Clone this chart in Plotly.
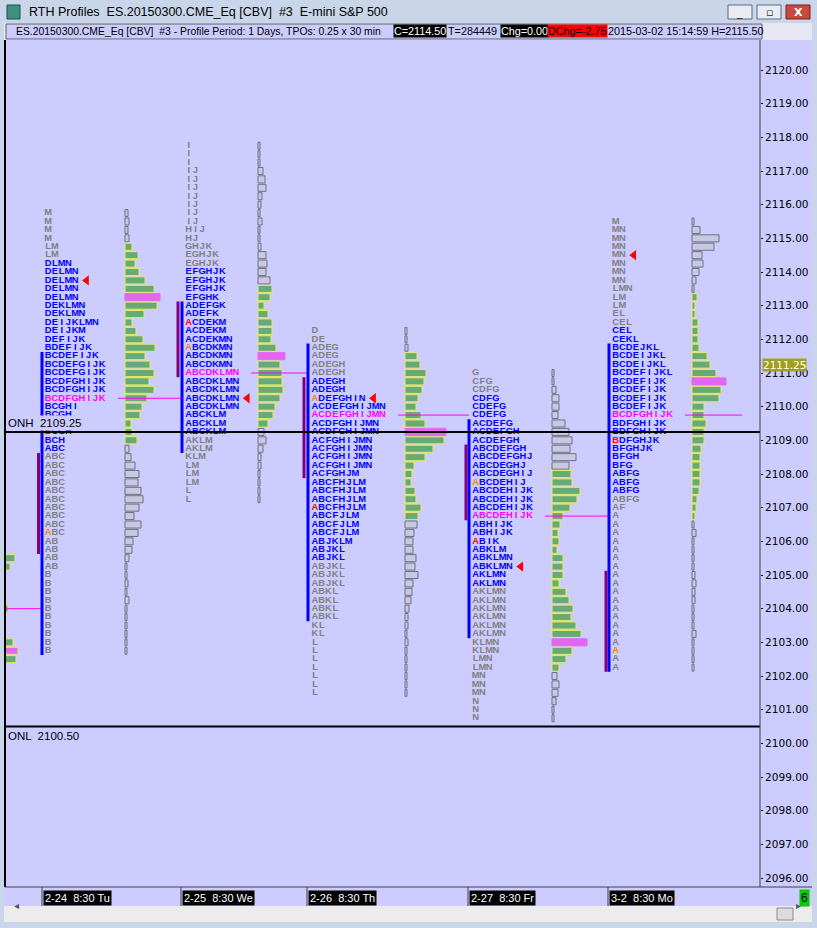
import plotly.graph_objects as go

# ======================= DATA =======================
TICK = 0.25
day_labels = ["2-24  8:30 Tu", "2-25  8:30 We", "2-26  8:30 Th", "2-27  8:30 Fr", "3-2  8:30 Mo"]

# --- Day 1 (2-24) ---
d1_top = 2115.75
d1_tpo = ["M", "M", "M", "M", "LM", "LM", "DLMN", "DELMN", "DELMN", "DELMN", "DELMN",
          "DEKLMN", "DEKLMN", "DEIJKLMN", "DEIJKM", "DEFIJK", "BDEFIJK", "BCDEFIJK",
          "BCDEFGIJK", "BCDEFGIJK", "BCDFGHIJK", "BCDFGHIJK", "BCDFGHIJK", "BCGHI",
          "BCGH", "BCGH", "BCGH", "BCH", "ABC", "ABC", "ABC", "ABC", "ABC", "ABC", "ABC",
          "ABC", "ABC", "ABC", "ABC", "AB", "AB", "AB", "AB", "B", "B", "B", "B", "B",
          "B", "B", "B", "B", "B"]
d1_vol = [3, 4, 3, 4, 7, 13, 10, 14, 20, 29, 35, 32, 19, 7, 11, 18, 30, 20, 25, 29, 24,
          29, 22, 17, 15, 6, 7, 12, 4, 6, 10, 14, 13, 16, 18, 14, 9, 16, 13, 8, 7, 4, 2,
          2, 3, 2, 4, 2, 2, 2, 2, 2, 2]

# --- Day 2 (2-25) ---
d2_top = 2117.75
d2_tpo = ["I", "I", "I", "IJ", "IJ", "IJ", "IJ", "IJ", "IJ", "IJ", "HIJ", "HJ", "GHJK",
          "EGHJK", "EGHJK", "EFGHJK", "EFGHJK", "EFGHJK", "EFGHK", "ADEFGK", "ADEFK",
          "ACDEKM", "ACDEKM", "ACDEKMN", "ABCDKMN", "ABCDKMN", "ABCDKMN", "ABCDKLMN",
          "ABCDKLMN", "ABCDKLMN", "ABCDKLMN", "ABCDKLMN", "ABCKLM", "ABCKLM", "ABCKLM",
          "AKLM", "AKLM", "KLM", "LM", "LM", "LM", "L", "L"]
d2_vol = [2, 2, 2, 5, 7, 8, 4, 3, 2, 4, 2, 2, 3, 8, 9, 8, 12, 14, 12, 6, 10, 14, 14,
          13, 18, 27, 22, 24, 24, 25, 22, 17, 15, 10, 6, 8, 5, 3, 3, 2, 2, 2, 2]

# --- Day 3 (2-26) ---
d3_top = 2112.25
d3_tpo = ["D", "DE", "ADEG", "ADEG", "ADEGH", "ADEGH", "ADEGH", "ADEGH", "ADEFGHIN",
          "ACDEFGHIJMN", "ACDEFGHIJMN", "ACDFGHIJMN", "ACDFGHIJMN", "ACFGHIJMN",
          "ACFGHIJMN", "ACFGHIJMN", "ACFGHIJMN", "ACFGHJM", "ABCFHJLM", "ABCFHJLM",
          "ABCFHJLM", "ABCFHJLM", "ABCFJLM", "ABCFJLM", "ABCFJLM", "ABJKLM", "ABJKL",
          "ABJKL", "ABJKL", "ABJKL", "ABJKL", "ABKL", "ABKL", "ABKL", "ABKL", "KL", "KL",
          "L", "L", "L", "L", "L", "L", "L"]
d3_vol = [2, 2, 3, 12, 15, 21, 19, 17, 13, 11, 16, 20, 41, 39, 28, 20, 9, 7, 6, 10, 11,
          16, 13, 12, 9, 8, 8, 11, 10, 13, 8, 7, 6, 4, 3, 3, 2, 3, 2, 2, 2, 2, 2, 2]

# --- Day 4 (2-27) ---
d4_top = 2111.00
d4_tpo = ["G", "CFG", "CDFG", "CDFG", "CDEFG", "CDEFG", "ACDEFG", "ACDEFGH", "ACDEFGH",
          "ABCDEFGH", "ABCDEFGHJ", "ABCDEGHJ", "ABCDEGHIJ", "ABCDEHIJ", "ABCDEHIJK",
          "ABCDEHIJK", "ABCDEHIJK", "ABCDEHIJK", "ABHIJK", "ABHIJK", "ABIK", "ABKLM",
          "ABKLMN", "ABKLMN", "AKLMN", "AKLMN", "AKLMN", "AKLMN", "AKLMN", "AKLMN",
          "AKLMN", "AKLMN", "KLMN", "KLMN", "LMN", "LMN", "MN", "MN", "MN", "N", "N", "N"]
d4_vol = [2, 2, 4, 7, 7, 6, 13, 17, 20, 18, 24, 17, 19, 20, 28, 25, 18, 11, 8, 6, 7, 5,
          11, 11, 11, 7, 14, 17, 21, 19, 24, 29, 35, 20, 14, 7, 5, 7, 6, 4, 2, 2]

# --- Day 5 (3-2) ---
d5_top = 2115.50
d5_tpo = ["M", "MN", "MN", "MN", "MN", "MN", "MN", "MN", "LMN", "LM", "LM", "EL", "CEL",
          "CEL", "CEKL", "BCDEJKL", "BCDEIJKL", "BCDEIJKL", "BCDEFIJKL", "BCDEFIJK",
          "BCDEFIJK", "BCDEFIJK", "BCDEFIJK", "BCDFGHIJK", "BDFGHIJK", "BDFGHIJK",
          "BDFGHJK", "BFGHJK", "BFGH", "BFG", "ABFG", "ABFG", "ABFG", "ABFG", "AF", "A",
          "A", "A", "A", "A", "A", "A", "A", "A", "A", "A", "A", "A", "A", "A", "A", "A",
          "A", "A"]
d5_vol = [2, 8, 27, 22, 10, 11, 7, 4, 2, 5, 3, 3, 6, 6, 6, 7, 15, 18, 24, 34, 29, 27, 12,
          12, 14, 12, 12, 9, 8, 8, 8, 8, 7, 5, 4, 3, 2, 4, 2, 2, 2, 2, 3, 4, 3, 3, 2, 2,
          2, 4, 2, 2, 2, 2]

# per-day reference prices
tpo_va_hi = [2114.25, 2114.00, 2110.75, 2110.25, 2112.25]
tpo_va_lo = [2108.75, 2109.25, 2105.50, 2104.75, 2107.50]
tpo_poc = [2110.25, 2111.00, 2109.75, 2106.75, 2109.75]
open_px = [2106.25, 2111.75, 2110.25, 2107.75, 2102.75]
mark_px = [2109.25, 2112.50, 2107.00, 2106.00, 2109.00]
vol_va_hi = [2114.75, 2113.50, 2111.50, 2108.00, 2113.25]
vol_va_lo = [2109.00, 2109.50, 2106.75, 2102.25, 2106.75]
vol_poc = [2113.25, 2111.50, 2109.25, 2103.00, 2110.75]
ib_hi = [2111.50, 2113.00, 2111.75, 2109.50, 2111.75]
ib_lo = [2102.75, 2108.75, 2103.75, 2103.25, 2102.25]
or_hi = [2108.50, 2113.00, 2110.75, 2108.75, 2105.00]
or_lo = [2105.75, 2111.00, 2108.00, 2106.75, 2102.25]
arrow_px = [2113.75, 2110.25, 2110.25, 2105.25, 2114.50]

# tail of the previous day's volume profile (visible at the left edge)
prev_px = [2105.50, 2105.25, 2104.00, 2103.00, 2102.75, 2102.50]
prev_vol = [10, 5, 3, 8, 13, 11]
prev_vol_poc = 2102.75
prev_tpo_poc = 2104.00

onh, onl = 2109.25, 2100.50
last_px = 2111.25
y_ticks = list(range(2096, 2121))

# ======================= LAYOUT CONSTANTS =======================
W, H = 817, 928
PL, PR, PT, PB = 5, 760, 40, 887          # plot area in page pixels
Y_TOP_PX, Y_BOT_PX = 70, 878               # pixel rows of 2120 / 2096
PX_PER_PT = (Y_BOT_PX - Y_TOP_PX) / 24.0
y_hi = 2120 + (Y_TOP_PX - PT) / PX_PER_PT
y_lo = 2120 - (PB - Y_TOP_PX) / PX_PER_PT

cell_x = [44.8, 185.3, 311.6, 472.3, 612.3]   # left edge of first TPO cell
PITCH = 6.75                                   # TPO cell width (px)
ARROW_GAP = 8
hist_x = [125, 258, 405, 552, 692]
ib_x = [42, 182, 308, 469, 609]
or_x = [38.5, 178, 304, 466, 606]
sep_x = [42, 181, 307, 468, 608]
last_poc_len = 50

LAV = "#ccccff"
GREY_T, BLUE_T, MAG_T = "#808080", "#0000ff", "#ff00ff"
ORANGE_T, RED_T = "#ff8000", "#ff0000"
GREEN, YEL = "#66aa77", "#e8e868"
GBAR, GBAR_L = "#c8c8e2", "#6f6f82"
MAGBAR = "#e366f0"

days = [
    (d1_top, d1_tpo, d1_vol), (d2_top, d2_tpo, d2_vol), (d3_top, d3_tpo, d3_vol),
    (d4_top, d4_tpo, d4_vol), (d5_top, d5_tpo, d5_vol)]


def px(X):
    return (X - PL) / (PR - PL)


def py(Y):
    return (PB - Y) / (PB - PT)


fig = go.Figure()
shapes = []
annos = []

# previous day's profile tail
pc = [MAGBAR if p == prev_vol_poc else GREEN for p in prev_px]
fig.add_trace(go.Bar(y=prev_px, x=prev_vol, base=PL, orientation="h", width=0.21,
                     marker=dict(color=pc, line=dict(color=YEL, width=1)),
                     hoverinfo="skip", showlegend=False))
shapes.append(dict(type="line", xref="x", yref="y", x0=PL, x1=ib_x[0],
                   y0=prev_tpo_poc, y1=prev_tpo_poc, line=dict(color=MAG_T, width=1)))

arrow_x = []
for i, (top, tpo, vol) in enumerate(days):
    prices = [round(top - TICK * k, 2) for k in range(len(tpo))]
    # ---- TPO letters (one fixed-width cell per letter) ----
    xs, ys, ts, cs = [], [], [], []
    for p, s in zip(prices, tpo):
        if p == tpo_poc[i]:
            c = MAG_T
        elif tpo_va_lo[i] <= p <= tpo_va_hi[i]:
            c = BLUE_T
        else:
            c = GREY_T
        for k, ch in enumerate(s):
            cc = c
            if k == 0 and p == open_px[i] and ch == "A":
                cc = ORANGE_T
            elif k == 0 and p == mark_px[i]:
                cc = RED_T
            xs.append(cell_x[i] + (k + 0.5) * PITCH)
            ys.append(p)
            ts.append(ch)
            cs.append(cc)
        if p == arrow_px[i]:
            arrow_x.append(cell_x[i] + len(s) * PITCH + ARROW_GAP)
    fig.add_trace(go.Scatter(x=xs, y=ys, mode="text", text=ts, textposition="middle center",
                             textfont=dict(family="Liberation Sans", size=9.3,
                                           color=cs, weight="bold"),
                             hoverinfo="skip", showlegend=False))
    # ---- volume histogram ----
    vp = [round(top - TICK * k, 2) for k in range(len(vol))]
    fc, lc = [], []
    for p in vp:
        if p == vol_poc[i]:
            fc.append(MAGBAR); lc.append(MAGBAR)
        elif vol_va_lo[i] <= p <= vol_va_hi[i]:
            fc.append(GREEN); lc.append(YEL)
        else:
            fc.append(GBAR); lc.append(GBAR_L)
    fig.add_trace(go.Bar(y=vp, x=vol, base=hist_x[i], orientation="h", width=0.21,
                         marker=dict(color=fc, line=dict(color=lc, width=1)),
                         hoverinfo="skip", showlegend=False))
    # ---- IB / opening range lines ----
    shapes.append(dict(type="line", xref="x", yref="y", x0=ib_x[i], x1=ib_x[i],
                       y0=ib_hi[i] + TICK / 2, y1=ib_lo[i] - TICK / 2,
                       line=dict(color="#0000ff", width=3)))
    shapes.append(dict(type="line", xref="x", yref="y", x0=or_x[i], x1=or_x[i],
                       y0=or_hi[i] + TICK / 2, y1=or_lo[i] - TICK / 2,
                       line=dict(color="#800080", width=3)))
    # ---- naked POC line ----
    x_end = ib_x[i + 1] if i + 1 < len(days) else hist_x[i] + last_poc_len
    shapes.append(dict(type="line", xref="x", yref="y", x0=hist_x[i] - 7, x1=x_end,
                       y0=tpo_poc[i], y1=tpo_poc[i], line=dict(color=MAG_T, width=1)))

# red arrows
fig.add_trace(go.Scatter(x=arrow_x, y=arrow_px, mode="markers",
                         marker=dict(symbol="triangle-left", size=9, color="#ff0000"),
                         hoverinfo="skip", showlegend=False))

# ONH / ONL lines
for v in (onh, onl):
    shapes.append(dict(type="line", xref="paper", yref="y", x0=0, x1=1, y0=v, y1=v,
                       line=dict(color="black", width=2), layer="above"))
annos.append(dict(xref="paper", yref="y", x=px(6), y=onh, yshift=9, text="ONH  2109.25",
                  showarrow=False, xanchor="left", yanchor="middle", bgcolor=LAV,
                  font=dict(family="Liberation Sans", size=11.5, color="black")))
annos.append(dict(xref="paper", yref="y", x=px(6), y=onl, yshift=-9, text="ONL  2100.50",
                  showarrow=False, xanchor="left", yanchor="middle", bgcolor=LAV,
                  font=dict(family="Liberation Sans", size=11.5, color="black")))

# last price box on axis
annos.append(dict(xref="paper", yref="y", x=px(762), y=last_px, text="%.2f" % last_px,
                  showarrow=False, xanchor="left", yanchor="middle", bgcolor="#a0a020",
                  borderpad=0, font=dict(family="DejaVu Sans", size=10.5, color="white")))

# ---------- window chrome ----------
FRAME = "#c9d6e9"


def rect(x0, y0, x1, y1, fill, line=None, lw=1):
    shapes.append(dict(type="rect", xref="paper", yref="paper", x0=px(x0), x1=px(x1),
                       y0=py(y1), y1=py(y0), fillcolor=fill,
                       line=dict(color=line or fill, width=lw if line else 0),
                       layer="above"))


rect(0, 0, W, 23, FRAME)
rect(0, 0, 4, H, FRAME)
rect(812, 0, W, H, FRAME)
rect(0, 922, W, H, FRAME)
rect(7, 5, 20, 19, "#3d8f80", "#1d4f48")
rect(728, 5, 752, 19, "#e9edf3", "#5a6a82")
rect(757, 5, 781, 19, "#e9edf3", "#5a6a82")
rect(786, 5, 810, 19, "#c9493e", "#7a2018")
# header strip
rect(4, 23, 812, 40, "#e8e8f4")
rect(6, 24, 762, 39, LAV, "#606060")
# bottom scrollbar
rect(4, 906, 812, 922, "#ececec")
rect(777, 908, 793, 920, "#dcdcdc", "#8a8a8a")
# plot borders
shapes.append(dict(type="line", xref="paper", yref="paper", x0=px(5), x1=px(5), y0=0,
                   y1=1, line=dict(color="black", width=2), layer="above"))
shapes.append(dict(type="line", xref="paper", yref="paper", x0=1, x1=1, y0=0, y1=1,
                   line=dict(color="#404040", width=1), layer="above"))
shapes.append(dict(type="line", xref="paper", yref="paper", x0=0, x1=px(812), y0=0,
                   y1=0, line=dict(color="#404040", width=1), layer="above"))
# day separators in time axis
for sx in sep_x:
    shapes.append(dict(type="line", xref="paper", yref="paper", x0=px(sx), x1=px(sx),
                       y0=py(887), y1=py(906), line=dict(color="#404040", width=1),
                       layer="above"))

annos.append(dict(xref="paper", yref="paper", x=px(27), y=py(12),
                  text="RTH Profiles  ES.20150300.CME_Eq [CBV]  #3  E-mini S&P 500",
                  showarrow=False, xanchor="left", yanchor="middle",
                  font=dict(family="Liberation Sans", size=12.5, color="black")))
for bx, t in ((740, "<b>_</b>"), (769, "▫"), (798, "<b>X</b>")):
    annos.append(dict(xref="paper", yref="paper", x=px(bx), y=py(12), text=t,
                      showarrow=False, xanchor="center", yanchor="middle",
                      font=dict(family="DejaVu Sans", size=11,
                                color="white" if t == "<b>X</b>" else "#333")))

annos.append(dict(xref="paper", yref="paper", x=px(14), y=py(31.5),
                  text="ES.20150300.CME_Eq [CBV]  #3 - Profile Period: 1 Days, TPOs: 0.25 x 30 min",
                  showarrow=False, xanchor="left", yanchor="middle",
                  font=dict(family="Liberation Sans", size=10.4, color="black")))
for hx, t, bg, fc in ((393, "C=2114.50", "black", "white"), (447, "T=284449", None, "black"),
                      (500, "Chg=0.00", "black", "white"), (547, "DChg=-2.75", "#ff0000", "black"),
                      (607, "2015-03-02 15:14:59 H=2115.50", None, "black")):
    d = dict(xref="paper", yref="paper", x=px(hx), y=py(31.5), text=t, showarrow=False,
             xanchor="left", yanchor="middle", borderpad=0,
             font=dict(family="Liberation Sans", size=10.8, color=fc))
    if bg:
        d["bgcolor"] = bg
    annos.append(d)

for sx, lab in zip(sep_x, day_labels):
    annos.append(dict(xref="paper", yref="paper", x=px(sx + 1), y=py(897.5), text=lab,
                      showarrow=False, xanchor="left", yanchor="middle", bgcolor="black",
                      borderpad=1,
                      font=dict(family="Liberation Sans", size=11, color="white")))
annos.append(dict(xref="paper", yref="paper", x=px(804), y=py(897.5), text="6",
                  showarrow=False, xanchor="center", yanchor="middle", bgcolor="#00cc00",
                  borderpad=1, font=dict(family="Liberation Sans", size=12, color="black")))
annos.append(dict(xref="paper", yref="paper", x=px(12), y=py(914), text="◂",
                  showarrow=False, font=dict(size=10, color="#555")))
annos.append(dict(xref="paper", yref="paper", x=px(803), y=py(914), text="▸",
                  showarrow=False, font=dict(size=10, color="#555")))

fig.update_layout(
    width=W, height=H, margin=dict(l=PL, r=W - PR, t=PT, b=H - PB),
    paper_bgcolor=LAV, plot_bgcolor=LAV, barmode="overlay", showlegend=False,
    xaxis=dict(range=[PL, PR], visible=False, fixedrange=True),
    yaxis=dict(range=[y_lo, y_hi], side="right", tickmode="array", tickvals=y_ticks,
               ticktext=["%.2f" % v for v in y_ticks], showgrid=False, zeroline=False,
               ticks="outside", ticklen=2, tickcolor="black",
               tickfont=dict(family="DejaVu Sans", size=10.5, color="black"),
               showline=False),
    shapes=shapes, annotations=annos,
)
fig.write_html("out.html", config={"displayModeBar": False},
               post_script="document.body.style.margin='0px';"
                           "document.body.style.overflow='hidden';")
